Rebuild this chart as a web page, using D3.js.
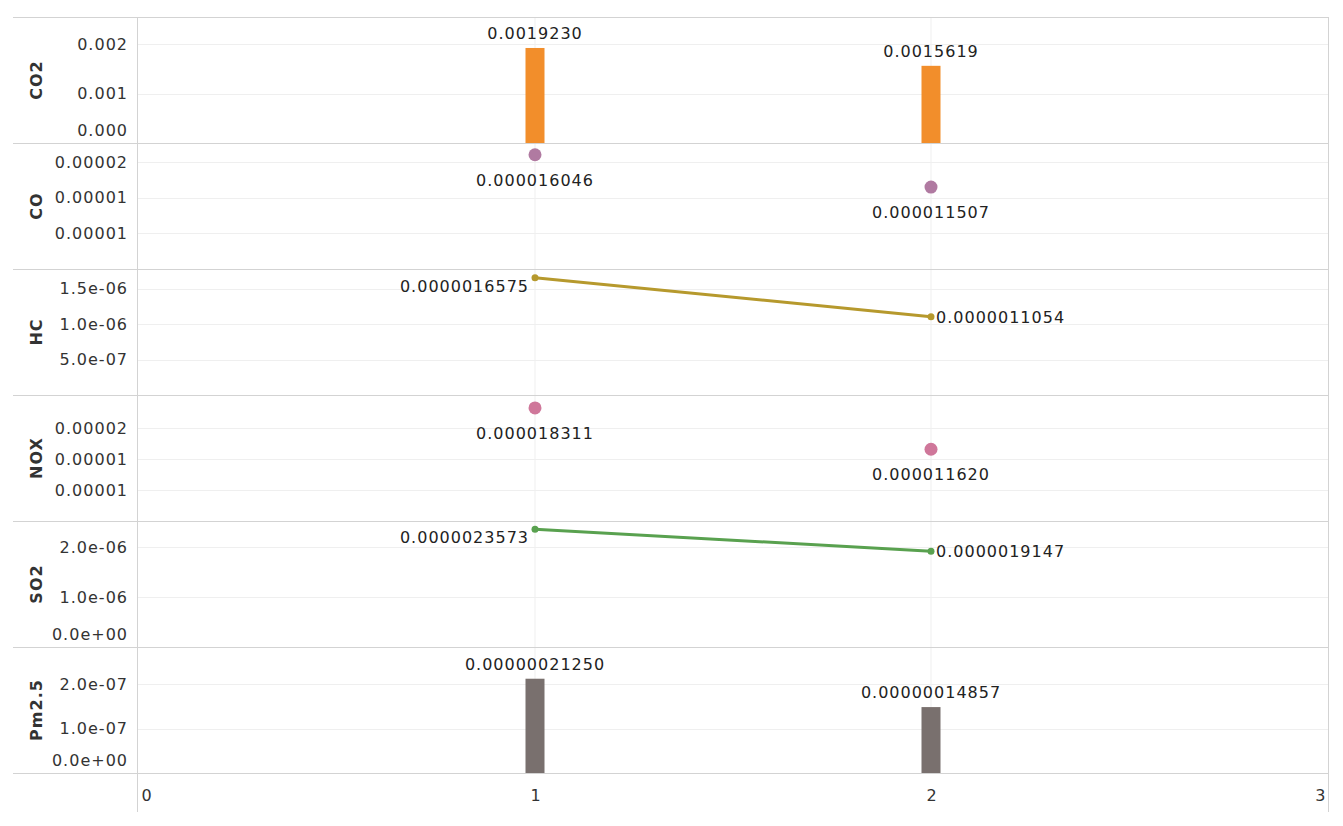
<!DOCTYPE html>
<html>
<head>
<meta charset="utf-8">
<script src="https://cdn.jsdelivr.net/npm/d3@7"></script>
<style>
  body { margin: 0; background: #fff; }
  text { font-family: "DejaVu Sans", Verdana, sans-serif; }
</style>
</head>
<body>
<script>
// measures, one panel each
var measures = ["CO2", "CO", "HC", "NOX", "SO2", "Pm2.5"];
var markTypes = ["bar", "circle", "line", "circle", "line", "bar"];

var xValues = [1, 2];
var xTicks = [0, 1, 2, 3];

var co2 = [0.0019230, 0.0015619];
var co = [0.000016046, 0.000011507];
var hc = [0.0000016575, 0.0000011054];
var nox = [0.000018311, 0.000011620];
var so2 = [0.0000023573, 0.0000019147];
var pm25 = [0.00000021250, 0.00000014857];
var seriesValues = [co2, co, hc, nox, so2, pm25];
var labelDecimals = [7, 9, 10, 9, 10, 11];

var yMax = [0.00255, 0.0000177, 0.00000178, 0.0000204, 0.00000252, 0.000000284];
var yTickValues = [
  [0, 0.001, 0.002],
  [0.000005, 0.00001, 0.000015],
  [0.0000005, 0.000001, 0.0000015],
  [0.000005, 0.00001, 0.000015],
  [0, 0.000001, 0.000002],
  [0, 0.0000001, 0.0000002]
];
var yTickLabels = [
  ["0.000", "0.001", "0.002"],
  ["0.00001", "0.00001", "0.00002"],
  ["5.0e-07", "1.0e-06", "1.5e-06"],
  ["0.00001", "0.00001", "0.00002"],
  ["0.0e+00", "1.0e-06", "2.0e-06"],
  ["0.0e+00", "1.0e-07", "2.0e-07"]
];

var colors = ["#f28e2b", "#b07aa1", "#b6992d", "#cf779a", "#59a14f", "#79706e"];

// layout
var w = 1343, h = 826;
var outerLeft = 13, plotLeft = 137, plotRight = 1328;
var top0 = 17, panelH = 126;
var bottomAll = top0 + panelH * measures.length;
var sep = "#d3d3d3", grid = "#efefef";
var labelSize = "16px", spacing = "1px";

var svg = d3.select("body").append("svg")
  .attr("width", w)
  .attr("height", h);

var x = d3.scaleLinear().domain([0, 3]).range([139, 1327]);

// vertical gridlines
svg.selectAll(".vgrid")
  .data(xValues)
  .enter().append("line")
  .attr("x1", function(d) { return x(d); })
  .attr("x2", function(d) { return x(d); })
  .attr("y1", top0).attr("y2", bottomAll)
  .attr("stroke", grid).attr("stroke-width", 1);

measures.forEach(function(m, i) {
  var pTop = top0 + i * panelH;
  var pBot = pTop + panelH;
  var y = d3.scaleLinear().domain([0, yMax[i]]).range([pBot, pTop]);
  var vals = seriesValues[i];
  var g = svg.append("g");

  // horizontal gridlines
  g.selectAll(".hgrid")
    .data(yTickValues[i])
    .enter().append("line")
    .attr("x1", plotLeft).attr("x2", plotRight)
    .attr("y1", function(d) { return Math.round(y(d)) + 0.5; })
    .attr("y2", function(d) { return Math.round(y(d)) + 0.5; })
    .attr("stroke", grid);

  // row header
  g.append("text")
    .attr("transform", "translate(42," + (pTop + panelH / 2) + ") rotate(-90)")
    .attr("text-anchor", "middle")
    .attr("font-size", "16px")
    .attr("font-weight", "bold")
    .attr("letter-spacing", "1px")
    .attr("fill", "#333")
    .text(m);

  // y axis
  var axis = d3.axisLeft(y)
    .tickValues(yTickValues[i])
    .tickFormat(function(d, k) { return yTickLabels[i][k]; })
    .tickSize(0)
    .tickPadding(9);
  var ax = g.append("g")
    .attr("transform", "translate(" + plotLeft + ",0)")
    .call(axis);
  ax.select(".domain").remove();
  ax.selectAll("text")
    .attr("font-family", "DejaVu Sans, sans-serif")
    .attr("font-size", labelSize)
    .attr("letter-spacing", spacing)
    .attr("fill", "#333")
    .attr("y", function(d) { return Math.min(0, (pBot - 13) - y(d)); });

  var data = vals.map(function(v, k) { return { x: xValues[k], v: v, k: k }; });
  var fmt = function(d) { return d.v.toFixed(labelDecimals[i]); };

  if (markTypes[i] == "bar") {
    g.selectAll("rect")
      .data(data)
      .enter().append("rect")
      .attr("x", function(d) { return x(d.x) - 9.5; })
      .attr("width", 19)
      .attr("y", function(d) { return y(d.v); })
      .attr("height", function(d) { return pBot - y(d.v); })
      .attr("fill", colors[i]);
    g.selectAll(".lbl")
      .data(data)
      .enter().append("text")
      .attr("x", function(d) { return x(d.x); })
      .attr("y", function(d) { return y(d.v) - 9; })
      .attr("text-anchor", "middle")
      .attr("font-size", labelSize)
      .attr("letter-spacing", spacing)
      .attr("fill", "#222")
      .text(fmt);
  } else if (markTypes[i] == "circle") {
    g.selectAll("circle")
      .data(data)
      .enter().append("circle")
      .attr("cx", function(d) { return x(d.x); })
      .attr("cy", function(d) { return y(d.v); })
      .attr("r", 6.5)
      .attr("fill", colors[i]);
    g.selectAll(".lbl")
      .data(data)
      .enter().append("text")
      .attr("x", function(d) { return x(d.x); })
      .attr("y", function(d) { return y(d.v) + 31; })
      .attr("text-anchor", "middle")
      .attr("font-size", labelSize)
      .attr("letter-spacing", spacing)
      .attr("fill", "#222")
      .text(fmt);
  } else {
    var line = d3.line()
      .x(function(d) { return x(d.x); })
      .y(function(d) { return y(d.v); });
    g.append("path")
      .datum(data)
      .attr("d", line)
      .attr("fill", "none")
      .attr("stroke", colors[i])
      .attr("stroke-width", 3);
    g.selectAll("circle")
      .data(data)
      .enter().append("circle")
      .attr("cx", function(d) { return x(d.x); })
      .attr("cy", function(d) { return y(d.v); })
      .attr("r", 3.5)
      .attr("fill", colors[i]);
    g.selectAll(".lbl")
      .data(data)
      .enter().append("text")
      .attr("x", function(d) { return d.k == 0 ? x(d.x) - 6 : x(d.x) + 5; })
      .attr("y", function(d) { return d.k == 0 ? y(d.v) + 14 : y(d.v) + 6; })
      .attr("text-anchor", function(d) { return d.k == 0 ? "end" : "start"; })
      .attr("font-size", labelSize)
      .attr("letter-spacing", spacing)
      .attr("fill", "#222")
      .text(fmt);
  }
});

// panel separators
d3.range(measures.length + 1).forEach(function(i) {
  svg.append("line")
    .attr("x1", outerLeft).attr("x2", plotRight)
    .attr("y1", top0 + i * panelH + 0.5).attr("y2", top0 + i * panelH + 0.5)
    .attr("stroke", sep);
});

// vertical borders
[plotLeft, plotRight].forEach(function(px) {
  svg.append("line")
    .attr("x1", px + 0.5).attr("x2", px + 0.5)
    .attr("y1", top0).attr("y2", 812)
    .attr("stroke", sep);
});

// x axis
var xAxis = d3.axisBottom(x).tickValues(xTicks).tickFormat(d3.format("d")).tickSize(0).tickPadding(17);
var xg = svg.append("g")
  .attr("transform", "translate(0," + bottomAll + ")")
  .call(xAxis);
xg.select(".domain").remove();
xg.selectAll("text")
  .attr("font-family", "DejaVu Sans, sans-serif")
  .attr("font-size", labelSize)
  .attr("fill", "#333")
  .attr("text-anchor", function(d) { return d == 0 ? "start" : (d == 3 ? "end" : "middle"); })
  .attr("dx", function(d) { return d == 0 ? 2 : (d == 3 ? -2 : 0); });
</script>
</body>
</html>
